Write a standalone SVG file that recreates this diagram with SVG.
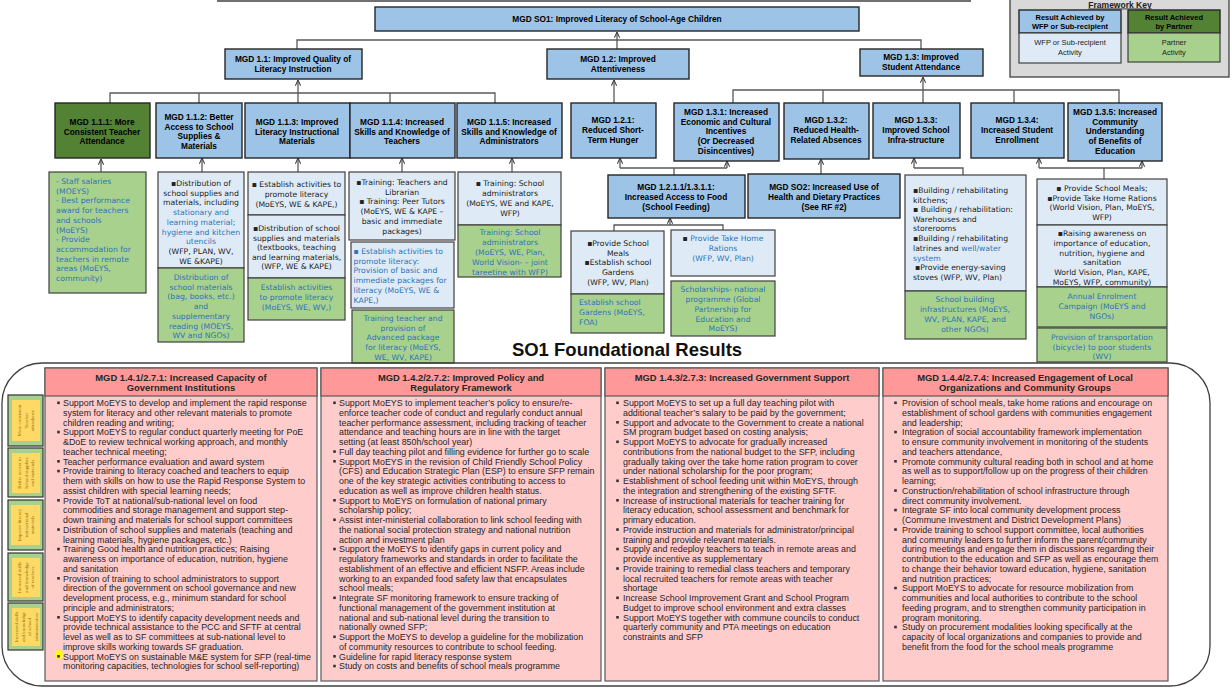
<svg xmlns="http://www.w3.org/2000/svg" width="1232" height="690" viewBox="0 0 1232 690">
<style>
.n{fill:#9DC3E6;stroke:#262626;stroke-width:1.4}
.dg{fill:#548235;stroke:#262626;stroke-width:1.4}
.lb{fill:#DEEBF7;stroke:#404040;stroke-width:1.2}
.lg{fill:#A9D18E;stroke:#404040;stroke-width:1.2}
.t{font-family:"Liberation Sans",Arial,sans-serif;font-weight:bold;font-size:8.3px;text-anchor:middle;fill:#000}
.a{font-family:"DejaVu Sans",Verdana,sans-serif;font-size:7.7px;text-anchor:middle;fill:#222}
.l{text-anchor:start}
.b{fill:#2E74B5}
.k{fill:#222}
.p{font-family:"Liberation Sans",Arial,sans-serif;font-size:8.9px;fill:#262626}
.ph{font-family:"Liberation Sans",Arial,sans-serif;font-size:9.4px;font-weight:bold;text-anchor:middle;fill:#262626}
.pk{fill:#FFCCCC;stroke:#595959;stroke-width:1.2}
.pkh{fill:#FF9999;stroke:#595959;stroke-width:1.2}
.bu{fill:#333}
.sb{fill:#A9D18E;stroke:#333;stroke-width:1.2}
.sy{fill:#FFD966}
.st{font-family:"Liberation Serif","Times New Roman",serif;font-size:5px;fill:#8C6D00;text-anchor:middle}
</style>
<defs>
<marker id="ah" viewBox="0 0 8 8" refX="7.5" refY="4" markerWidth="7" markerHeight="7" markerUnits="userSpaceOnUse" orient="auto">
<path d="M1,1 L7.5,4 L1,7" fill="none" stroke="#404040" stroke-width="1.2"/>
</marker>
</defs>
<rect width="1232" height="690" fill="#fff"/>
<line x1="217" y1="1" x2="971" y2="1" stroke="#404040" stroke-width="1.5"/>

<!-- Framework key -->
<g id="key">
<rect x="1010" y="-2" width="219" height="79" fill="#D9D9D9" stroke="#404040" stroke-width="1.3"/>
<text x="1120" y="7.5" style="font-family:'Liberation Sans',Arial,sans-serif;font-size:8.5px;font-weight:bold;text-anchor:middle;text-decoration:underline" fill="#222">Framework Key</text>
<rect class="n" x="1019" y="10" width="102" height="23"/>
<text class="t" style="font-size:7.5px"><tspan x="1070" y="19.5">Result Achieved by</tspan><tspan x="1070" y="29">WFP or Sub-recipient</tspan></text>
<rect class="lb" x="1019" y="33" width="102" height="30"/>
<text class="a" style="font-family:'Liberation Sans',Arial,sans-serif;font-size:7.5px"><tspan x="1070" y="45">WFP or Sub-recipient</tspan><tspan x="1070" y="55">Activity</tspan></text>
<rect class="dg" x="1128" y="10" width="92" height="23"/>
<text class="t" style="font-size:7.5px"><tspan x="1174" y="19.5">Result Achieved</tspan><tspan x="1174" y="29">by Partner</tspan></text>
<rect class="lg" x="1128" y="33" width="92" height="29"/>
<text class="a" style="font-family:'Liberation Sans',Arial,sans-serif;font-size:7.5px"><tspan x="1174" y="45">Partner</tspan><tspan x="1174" y="55">Activity</tspan></text>
</g>

<!-- Connectors -->
<g id="connectors" fill="none" stroke="#595959" stroke-width="1.3">
<polyline points="297,49 297,40 921,40 921,49"/>
<line x1="617" y1="49" x2="617" y2="32" marker-end="url(#ah)"/>
<polyline points="110,103 110,93 495,93 495,103"/>
<line x1="199" y1="93" x2="199" y2="103"/>
<line x1="390" y1="93" x2="390" y2="103"/>
<line x1="298" y1="103" x2="298" y2="80" marker-end="url(#ah)"/>
<line x1="614" y1="103" x2="614" y2="80" marker-end="url(#ah)"/>
<polyline points="733,103 733,90 1119,90 1119,103"/>
<line x1="823" y1="90" x2="823" y2="103"/>
<line x1="1014" y1="90" x2="1014" y2="103"/>
<line x1="923" y1="103" x2="923" y2="77" marker-end="url(#ah)"/>
<line x1="101" y1="172" x2="101" y2="159" marker-end="url(#ah)"/>
<line x1="202" y1="172" x2="202" y2="158" marker-end="url(#ah)"/>
<line x1="298" y1="172" x2="298" y2="158" marker-end="url(#ah)"/>
<line x1="402" y1="172" x2="402" y2="158" marker-end="url(#ah)"/>
<line x1="512" y1="172" x2="512" y2="158" marker-end="url(#ah)"/>
<line x1="674" y1="175" x2="674" y2="168"/>
<line x1="620" y1="168" x2="727" y2="168"/>
<line x1="620" y1="168" x2="620" y2="158" marker-end="url(#ah)"/>
<line x1="727" y1="168" x2="727" y2="161" marker-end="url(#ah)"/>
<line x1="821" y1="174" x2="821" y2="159" marker-end="url(#ah)"/>
<polyline points="963,175 963,168 914,168"/>
<line x1="914" y1="168" x2="914" y2="158" marker-end="url(#ah)"/>
<line x1="1104" y1="179" x2="1104" y2="168"/>
<line x1="1039" y1="168" x2="1142" y2="168"/>
<line x1="1039" y1="168" x2="1039" y2="158" marker-end="url(#ah)"/>
<line x1="1142" y1="168" x2="1142" y2="161" marker-end="url(#ah)"/>
<line x1="670" y1="225" x2="670" y2="218" marker-end="url(#ah)"/>
<polyline points="614,231 614,225 723,225 723,230"/>
</g>

<!-- Level 0/1 -->
<g id="so1"><rect class="n" x="375" y="7" width="484" height="24"/><text class="t" x="617" y="22">MGD SO1: Improved Literacy of School-Age Children</text></g>
<g id="mgd11"><rect class="n" x="225" y="49" width="137" height="30"/><text class="t"><tspan x="293" y="62">MGD 1.1: Improved Quality of</tspan><tspan x="293" y="72">Literacy Instruction</tspan></text></g>
<g id="mgd12"><rect class="n" x="547" y="49" width="142" height="30"/><text class="t"><tspan x="618" y="62">MGD 1.2: Improved</tspan><tspan x="618" y="72">Attentiveness</tspan></text></g>
<g id="mgd13"><rect class="n" x="860" y="49" width="123" height="27"/><text class="t"><tspan x="921" y="60">MGD 1.3: Improved</tspan><tspan x="921" y="70">Student Attendance</tspan></text></g>

<!-- Level 2 -->
<g id="mgd111"><rect class="dg" x="55" y="103" width="95" height="55"/><text class="t"><tspan x="102" y="125">MGD 1.1.1: More</tspan><tspan x="102" y="135">Consistent Teacher</tspan><tspan x="102" y="144">Attendance</tspan></text></g>
<g id="mgd112"><rect class="n" x="156" y="103" width="86" height="55"/><text class="t"><tspan x="199" y="120">MGD 1.1.2: Better</tspan><tspan x="199" y="130">Access to School</tspan><tspan x="199" y="139">Supplies &amp;</tspan><tspan x="199" y="149">Materials</tspan></text></g>
<g id="mgd113"><rect class="n" x="245" y="103" width="105" height="55"/><text class="t"><tspan x="297" y="125">MGD 1.1.3: Improved</tspan><tspan x="297" y="135">Literacy Instructional</tspan><tspan x="297" y="144">Materials</tspan></text></g>
<g id="mgd114"><rect class="n" x="350" y="103" width="105" height="55"/><text class="t"><tspan x="402" y="125">MGD 1.1.4: Increased</tspan><tspan x="402" y="135">Skills and Knowledge of</tspan><tspan x="402" y="144">Teachers</tspan></text></g>
<g id="mgd115"><rect class="n" x="457" y="103" width="105" height="55"/><text class="t"><tspan x="509" y="125">MGD 1.1.5: Increased</tspan><tspan x="509" y="135">Skills and Knowledge of</tspan><tspan x="509" y="144">Administrators</tspan></text></g>
<g id="mgd121"><rect class="n" x="571" y="103" width="85" height="55"/><text class="t"><tspan x="613" y="123">MGD 1.2.1:</tspan><tspan x="613" y="133">Reduced Short-</tspan><tspan x="613" y="143">Term Hunger</tspan></text></g>
<g id="mgd131"><rect class="n" x="674" y="103" width="105" height="58"/><text class="t"><tspan x="726" y="115">MGD 1.3.1: Increased</tspan><tspan x="726" y="125">Economic and Cultural</tspan><tspan x="726" y="134">Incentives</tspan><tspan x="726" y="144">(Or Decreased</tspan><tspan x="726" y="154">Disincentives)</tspan></text></g>
<g id="mgd132"><rect class="n" x="784" y="103" width="85" height="56"/><text class="t"><tspan x="826" y="123">MGD 1.3.2:</tspan><tspan x="826" y="133">Reduced Health-</tspan><tspan x="826" y="143">Related Absences</tspan></text></g>
<g id="mgd133"><rect class="n" x="873" y="103" width="87" height="55"/><text class="t"><tspan x="916" y="123">MGD 1.3.3:</tspan><tspan x="916" y="133">Improved School</tspan><tspan x="916" y="143">Infra-structure</tspan></text></g>
<g id="mgd134"><rect class="n" x="971" y="103" width="93" height="55"/><text class="t"><tspan x="1017" y="123">MGD 1.3.4:</tspan><tspan x="1017" y="133">Increased Student</tspan><tspan x="1017" y="143">Enrollment</tspan></text></g>
<g id="mgd135"><rect class="n" x="1068" y="103" width="94" height="58"/><text class="t"><tspan x="1115" y="115">MGD 1.3.5: Increased</tspan><tspan x="1115" y="125">Community</tspan><tspan x="1115" y="134">Understanding</tspan><tspan x="1115" y="144">of Benefits of</tspan><tspan x="1115" y="154">Education</tspan></text></g>

<g id="food"><rect class="n" x="608" y="175" width="137" height="43"/><text class="t"><tspan x="676" y="190">MGD 1.2.1.1/1.3.1.1:</tspan><tspan x="676" y="200">Increased Access to Food</tspan><tspan x="676" y="210">(School Feeding)</tspan></text></g>
<g id="so2"><rect class="n" x="748" y="174" width="152" height="44"/><text class="t"><tspan x="824" y="190">MGD SO2: Increased Use of</tspan><tspan x="824" y="200">Health and Dietary Practices</tspan><tspan x="824" y="210">(See RF #2)</tspan></text></g>

<!-- Activities -->
<g id="act111"><rect class="lg" x="49" y="172" width="97" height="121"/>
<text class="a l b"><tspan x="56" y="184">- Staff salaries</tspan><tspan x="56" y="193.7">(MOEYS)</tspan><tspan x="56" y="203.4">- Best performance</tspan><tspan x="56" y="213.1">award for teachers</tspan><tspan x="56" y="222.8">and schools</tspan><tspan x="56" y="232.5">(MoEYS)</tspan><tspan x="56" y="242.2">- Provide</tspan><tspan x="56" y="251.9">accommodation for</tspan><tspan x="56" y="261.6">teachers in remote</tspan><tspan x="56" y="271.3">areas (MoEYS,</tspan><tspan x="56" y="281">community)</tspan></text></g>

<g id="act112"><rect class="lb" x="158" y="172" width="86" height="96"/>
<text class="a"><tspan x="201" y="186">▪Distribution of</tspan><tspan x="201" y="195.7">school supplies and</tspan><tspan x="201" y="205.4">materials, including</tspan><tspan x="201" y="215.1" class="b">stationary and</tspan><tspan x="201" y="224.8" class="b">learning material;</tspan><tspan x="201" y="234.5" class="b">hygiene and kitchen</tspan><tspan x="201" y="244.2" class="b">utencils</tspan><tspan x="201" y="253.9">(WFP, PLAN, WV,</tspan><tspan x="201" y="263.6">WE &amp;KAPE)</tspan></text>
<rect class="lg" x="158" y="268" width="86" height="74"/>
<text class="a b"><tspan x="201" y="280">Distribution of</tspan><tspan x="201" y="289.7">school materials</tspan><tspan x="201" y="299.4">(bag, books, etc.)</tspan><tspan x="201" y="309.1">and</tspan><tspan x="201" y="318.8">supplementary</tspan><tspan x="201" y="328.5">reading  (MOEYS,</tspan><tspan x="201" y="338.2">WV and NGOs)</tspan></text></g>

<g id="act113"><rect class="lb" x="248" y="172" width="97" height="43"/>
<text class="a"><tspan x="296.5" y="187">▪ Establish activities to</tspan><tspan x="296.5" y="197">promote literacy</tspan><tspan x="296.5" y="207">(MoEYS, WE &amp; KAPE,)</tspan></text>
<rect class="lb" x="248" y="215" width="97" height="63"/>
<text class="a"><tspan x="296.5" y="231">▪Distribution of school</tspan><tspan x="296.5" y="240.5">supplies and materials</tspan><tspan x="296.5" y="250">(textbooks, teaching</tspan><tspan x="296.5" y="259.5">and learning materials,</tspan><tspan x="296.5" y="269">(WFP, WE &amp; KAPE)</tspan></text>
<rect class="lg" x="248" y="278" width="97" height="42"/>
<text class="a b"><tspan x="296.5" y="290">Establish activities</tspan><tspan x="296.5" y="300">to promote literacy</tspan><tspan x="296.5" y="310">(MoEYS, WE, WV,)</tspan></text></g>

<g id="act114"><rect class="lb" x="349" y="172" width="106" height="68"/>
<text class="a"><tspan x="402" y="185">▪Training: Teachers and</tspan><tspan x="402" y="194.7">Librarian</tspan><tspan x="402" y="204.4">▪ Training: Peer Tutors</tspan><tspan x="402" y="214.1">(MoEYS, WE &amp; KAPE –</tspan><tspan x="402" y="223.8">basic and immediate</tspan><tspan x="402" y="233.5">packages)</tspan></text>
<rect class="lb" x="351" y="242" width="103" height="66"/>
<text class="a l b"><tspan x="353.5" y="254">▪ Establish activities to</tspan><tspan x="353.5" y="263.7">promote literacy:</tspan><tspan x="353.5" y="273.4">Provision of basic and</tspan><tspan x="353.5" y="283.1">immediate packages for</tspan><tspan x="353.5" y="292.8">literacy (MoEYS, WE &amp;</tspan><tspan x="353.5" y="302.5">KAPE,)</tspan></text>
<rect class="lg" x="352" y="310" width="102" height="53"/>
<text class="a b"><tspan x="403" y="321">Training teacher and</tspan><tspan x="403" y="330.7">provision of</tspan><tspan x="403" y="340.4">Advanced package</tspan><tspan x="403" y="350.1">for literacy (MoEYS,</tspan><tspan x="403" y="359.8">WE, WV, KAPE)</tspan></text></g>

<g id="act115"><rect class="lb" x="458" y="172" width="103" height="53"/>
<text class="a"><tspan x="510" y="186">▪ Training: School</tspan><tspan x="510" y="196">administrators</tspan><tspan x="510" y="206">(MoEYS, WE and KAPE,</tspan><tspan x="510" y="216">WFP)</tspan></text>
<rect class="lg" x="458" y="225" width="103" height="52"/>
<text class="a b"><tspan x="510" y="235">Training: School</tspan><tspan x="510" y="245">administrators</tspan><tspan x="510" y="255">(MoEYS, WE, Plan,</tspan><tspan x="510" y="265">World Vision- – joint</tspan><tspan x="510" y="274.5">tareetine with WFP)</tspan></text></g>

<g id="actfood1"><rect class="lb" x="571" y="231" width="93" height="63"/>
<text class="a"><tspan x="618" y="246">▪Provide School</tspan><tspan x="618" y="255.5">Meals</tspan><tspan x="618" y="265">▪Establish school</tspan><tspan x="618" y="275">Gardens</tspan><tspan x="618" y="285">(WFP, WV, Plan)</tspan></text>
<rect class="lg" x="571" y="294" width="93" height="39"/>
<text class="a l b"><tspan x="579" y="305">Establish school</tspan><tspan x="579" y="315">Gardens (MoEYS,</tspan><tspan x="579" y="325">FOA)</tspan></text></g>

<g id="actfood2"><rect class="lb" x="671" y="230" width="104" height="46"/>
<text class="a"><tspan x="723" y="241"><tspan class="k">▪ </tspan><tspan class="b">Provide Take Home</tspan></tspan><tspan x="723" y="251" class="b">Rations</tspan><tspan x="723" y="261" class="b">(WFP, WV, Plan)</tspan></text>
<rect class="lg" x="671" y="281" width="104" height="55"/>
<text class="a b"><tspan x="723" y="292">Scholarships- national</tspan><tspan x="723" y="302">programme (Global</tspan><tspan x="723" y="312">Partnership for</tspan><tspan x="723" y="321.5">Education and</tspan><tspan x="723" y="331">MoEYS)</tspan></text></g>

<g id="act133"><rect class="lb" x="905" y="175" width="121" height="116"/>
<text class="a l"><tspan x="913" y="193">▪Building / rehabilitating</tspan><tspan x="913" y="202.5">kitchens;</tspan><tspan x="913" y="212">▪ Building / rehabilitation:</tspan><tspan x="913" y="221.5">Warehouses and</tspan><tspan x="913" y="231">storerooms</tspan><tspan x="913" y="241">▪Building / rehabilitating</tspan><tspan x="913" y="251">latrines and <tspan class="b">well/water</tspan></tspan><tspan x="913" y="261" class="b">system</tspan><tspan x="915" y="270">▪Provide energy-saving</tspan><tspan x="913" y="280">stoves (WFP, WV, Plan)</tspan></text>
<rect class="lg" x="905" y="291" width="121" height="48"/>
<text class="a b"><tspan x="965" y="302">School building</tspan><tspan x="965" y="312">infrastructures (MoEYS,</tspan><tspan x="965" y="322">WV, PLAN, KAPE, and</tspan><tspan x="965" y="332">other NGOs)</tspan></text></g>

<g id="act1345"><rect class="lb" x="1037" y="179" width="130" height="46"/>
<text class="a"><tspan x="1102" y="191">▪ Provide School Meals;</tspan><tspan x="1102" y="200.5">▪Provide Take Home Rations</tspan><tspan x="1102" y="210">(World Vision, Plan, MoEYS,</tspan><tspan x="1102" y="220">WFP)</tspan></text>
<rect class="lb" x="1037" y="225" width="130" height="62"/>
<text class="a"><tspan x="1102" y="236">▪Raising awareness on</tspan><tspan x="1102" y="246">importance of education,</tspan><tspan x="1102" y="256">nutrition, hygiene and</tspan><tspan x="1102" y="265">sanitation</tspan><tspan x="1102" y="275">World Vision, Plan, KAPE,</tspan><tspan x="1102" y="285">MoEYS, WFP, community)</tspan></text>
<rect class="lg" x="1037" y="287" width="130" height="40"/>
<text class="a b"><tspan x="1102" y="299">Annual Enrolment</tspan><tspan x="1102" y="309">Campaign (MoEYS and</tspan><tspan x="1102" y="319">NGOs)</tspan></text>
<rect class="lg" x="1037" y="328" width="130" height="34"/>
<text class="a b"><tspan x="1102" y="340">Provision of transportation</tspan><tspan x="1102" y="350">(bicycle) to poor students</tspan><tspan x="1102" y="359">(WV)</tspan></text></g>

<!-- Foundational results -->
<g id="foundational">
<rect x="2" y="363" width="1208" height="323" rx="40" ry="40" fill="none" stroke="#404040" stroke-width="1.3"/>
<text x="627" y="356" style="font-family:'Liberation Sans',Arial,sans-serif;font-size:18.5px;font-weight:bold;text-anchor:middle" fill="#111">SO1 Foundational Results</text>
</g>

<g id="sidebar">
<rect class="sb" x="8" y="395" width="35" height="51"/><rect class="sy" x="12" y="400" width="28" height="41"/>
<text class="st" transform="translate(26,420.5) rotate(-90)"><tspan x="0" y="-5">More consistent</tspan><tspan x="0" y="1.5">Teacher</tspan><tspan x="0" y="8">attendance</tspan></text>
<rect class="sb" x="8" y="448" width="35" height="49"/><rect class="sy" x="12" y="453" width="28" height="40"/>
<text class="st" transform="translate(26,473) rotate(-90)"><tspan x="0" y="-5">Better access to</tspan><tspan x="0" y="1.5">School supplies</tspan><tspan x="0" y="8">and materials</tspan></text>
<rect class="sb" x="8" y="500" width="35" height="50"/><rect class="sy" x="11" y="505" width="29" height="40"/>
<text class="st" transform="translate(26,525) rotate(-90)"><tspan x="0" y="-5">Improve literacy</tspan><tspan x="0" y="1.5">instructional</tspan><tspan x="0" y="8">materials</tspan></text>
<rect class="sb" x="8" y="553" width="35" height="48"/><rect class="sy" x="12" y="558" width="28" height="39"/>
<text class="st" transform="translate(26,577.5) rotate(-90)"><tspan x="0" y="-5">Increased skills</tspan><tspan x="0" y="1.5">and knowledge</tspan><tspan x="0" y="8">of teachers</tspan></text>
<rect class="sb" x="8" y="603" width="35" height="47"/><rect class="sy" x="12" y="608" width="28" height="38"/>
<text class="st" transform="translate(25,627) rotate(-90)"><tspan x="0" y="-7">Increased skills</tspan><tspan x="0" y="-0.5">and knowledge</tspan><tspan x="0" y="6">of school</tspan><tspan x="0" y="12.5">administrators</tspan></text>
</g>

<g id="col1">
<rect class="pk" x="45" y="368" width="272" height="313"/>
<rect class="pkh" x="45" y="368" width="272" height="28"/>
<text class="ph"><tspan x="181" y="381">MGD 1.4.1/2.7.1: Increased Capacity of</tspan><tspan x="181" y="391">Government Institutions</tspan></text>
<rect x="55.5" y="650.5" width="7" height="8" fill="#FFFF00"/>
<g class="bu"><rect x="57.2" y="401.5" width="2.6" height="2.6"/><rect x="57.2" y="430.75" width="2.6" height="2.6"/><rect x="57.2" y="460" width="2.6" height="2.6"/><rect x="57.2" y="469.75" width="2.6" height="2.6"/><rect x="57.2" y="499" width="2.6" height="2.6"/><rect x="57.2" y="528.25" width="2.6" height="2.6"/><rect x="57.2" y="547.75" width="2.6" height="2.6"/><rect x="57.2" y="577" width="2.6" height="2.6"/><rect x="57.2" y="616" width="2.6" height="2.6"/><rect x="57.2" y="655" width="2.6" height="2.6"/></g>
<text class="p" x="63" y="406"><tspan x="63" dy="0">Support MoEYS to develop and implement the rapid response</tspan><tspan x="63" dy="9.75">system for literacy and other relevant materials to promote</tspan><tspan x="63" dy="9.75">children reading and writing;</tspan><tspan x="63" dy="9.75">Support MoEYS to regular conduct quarterly meeting for PoE</tspan><tspan x="63" dy="9.75">&amp;DoE to review technical working approach, and monthly</tspan><tspan x="63" dy="9.75">teacher technical meeting;</tspan><tspan x="63" dy="9.75">Teacher performance evaluation and award system</tspan><tspan x="63" dy="9.75">Provide training to literacy coached and teachers to equip</tspan><tspan x="63" dy="9.75">them with skills on how to use the Rapid Response System to</tspan><tspan x="63" dy="9.75">assist children with special learning needs;</tspan><tspan x="63" dy="9.75">Provide ToT at national/sub-national level on food</tspan><tspan x="63" dy="9.75">commodities and storage management and support step-</tspan><tspan x="63" dy="9.75">down training and materials for school support committees</tspan><tspan x="63" dy="9.75">Distribution of school supplies and materials (teaching and</tspan><tspan x="63" dy="9.75">learning materials, hygiene packages, etc.)</tspan><tspan x="63" dy="9.75">Training Good health and nutrition practices; Raising</tspan><tspan x="63" dy="9.75">awareness on importance of education, nutrition, hygiene</tspan><tspan x="63" dy="9.75">and sanitation</tspan><tspan x="63" dy="9.75">Provision of training to school administrators to support</tspan><tspan x="63" dy="9.75">direction of the government on school governance and new</tspan><tspan x="63" dy="9.75">development process, e.g., minimum standard for school</tspan><tspan x="63" dy="9.75">principle and administrators;</tspan><tspan x="63" dy="9.75">Support MoEYS to identify capacity development needs and</tspan><tspan x="63" dy="9.75">provide technical assistance to the PCC and SFTF at central</tspan><tspan x="63" dy="9.75">level as well as to SF committees at sub-national level to</tspan><tspan x="63" dy="9.75">improve skills working towards SF graduation.</tspan><tspan x="63" dy="9.75">Support MoEYS on sustainable M&amp;E system for SFP (real-time</tspan><tspan x="63" dy="9.75">monitoring capacities, technologies for school self-reporting)</tspan></text>
</g>

<g id="col2">
<rect class="pk" x="321" y="368" width="280" height="313"/>
<rect class="pkh" x="321" y="368" width="280" height="28"/>
<text class="ph"><tspan x="461" y="381">MGD 1.4.2/2.7.2: Improved Policy and</tspan><tspan x="461" y="391">Regulatory Framework</tspan></text>
<g class="bu"><rect x="333.2" y="401.5" width="2.6" height="2.6"/><rect x="333.2" y="450.25" width="2.6" height="2.6"/><rect x="333.2" y="460" width="2.6" height="2.6"/><rect x="333.2" y="499" width="2.6" height="2.6"/><rect x="333.2" y="518.5" width="2.6" height="2.6"/><rect x="333.2" y="547.75" width="2.6" height="2.6"/><rect x="333.2" y="596.5" width="2.6" height="2.6"/><rect x="333.2" y="635.5" width="2.6" height="2.6"/><rect x="333.2" y="655" width="2.6" height="2.6"/><rect x="333.2" y="664.75" width="2.6" height="2.6"/></g>
<text class="p" x="339" y="406"><tspan x="339" dy="0">Support MoEYS to implement teacher’s policy to ensure/re-</tspan><tspan x="339" dy="9.75">enforce teacher code of conduct and regularly conduct annual</tspan><tspan x="339" dy="9.75">teacher performance assessment, including tracking of teacher</tspan><tspan x="339" dy="9.75">attendance and teaching hours are in line with the target</tspan><tspan x="339" dy="9.75">setting (at least 850h/school year)</tspan><tspan x="339" dy="9.75">Full day teaching pilot and filling evidence for further go to scale</tspan><tspan x="339" dy="9.75">Support MoEYS in the revision of Child Friendly School Policy</tspan><tspan x="339" dy="9.75">(CFS) and Education Strategic Plan (ESP) to ensure SFP remain</tspan><tspan x="339" dy="9.75">one of the key strategic activities contributing to access to</tspan><tspan x="339" dy="9.75">education as well as improve children health status.</tspan><tspan x="339" dy="9.75">Support to MoEYS on formulation of national primary</tspan><tspan x="339" dy="9.75">scholarship policy;</tspan><tspan x="339" dy="9.75">Assist inter-ministerial collaboration to link school feeding with</tspan><tspan x="339" dy="9.75">the national social protection strategy and national nutrition</tspan><tspan x="339" dy="9.75">action and investment plan</tspan><tspan x="339" dy="9.75">Support the MoEYS to identify gaps in current policy and</tspan><tspan x="339" dy="9.75">regulatory frameworks and standards in order to facilitate the</tspan><tspan x="339" dy="9.75">establishment of an effective and efficient NSFP. Areas include</tspan><tspan x="339" dy="9.75">working to an expanded food safety law that encapsulates</tspan><tspan x="339" dy="9.75">school meals;</tspan><tspan x="339" dy="9.75">Integrate SF monitoring framework to ensure tracking of</tspan><tspan x="339" dy="9.75">functional management of the government institution at</tspan><tspan x="339" dy="9.75">national and sub-national level during the transition to</tspan><tspan x="339" dy="9.75">nationally owned SFP;</tspan><tspan x="339" dy="9.75">Support the MoEYS to develop a guideline for the mobilization</tspan><tspan x="339" dy="9.75">of community resources to contribute to school feeding.</tspan><tspan x="339" dy="9.75">Guideline for rapid literacy response system</tspan><tspan x="339" dy="9.75">Study on costs and benefits of school meals programme</tspan></text>
</g>

<g id="col3">
<rect class="pk" x="605" y="368" width="274" height="313"/>
<rect class="pkh" x="605" y="368" width="274" height="28"/>
<text class="ph" x="742" y="381">MGD 1.4.3/2.7.3:  Increased Government Support</text>
<g class="bu"><rect x="616.2" y="401.5" width="2.6" height="2.6"/><rect x="616.2" y="421" width="2.6" height="2.6"/><rect x="616.2" y="440.5" width="2.6" height="2.6"/><rect x="616.2" y="479.5" width="2.6" height="2.6"/><rect x="616.2" y="499" width="2.6" height="2.6"/><rect x="616.2" y="528.25" width="2.6" height="2.6"/><rect x="616.2" y="547.75" width="2.6" height="2.6"/><rect x="616.2" y="567.25" width="2.6" height="2.6"/><rect x="616.2" y="596.5" width="2.6" height="2.6"/><rect x="616.2" y="616" width="2.6" height="2.6"/></g>
<text class="p" x="623" y="406"><tspan x="623" dy="0">Support MoEYS to set up a full day teaching pilot with</tspan><tspan x="623" dy="9.75">additional teacher’s salary to be paid by the government;</tspan><tspan x="623" dy="9.75">Support and advocate to the Government to create a national</tspan><tspan x="623" dy="9.75">SM program budget based on costing analysis;</tspan><tspan x="623" dy="9.75">Support MoEYS to advocate for gradually increased</tspan><tspan x="623" dy="9.75">contributions from the national budget to the SFP, including</tspan><tspan x="623" dy="9.75">gradually taking over the take home ration program to cover</tspan><tspan x="623" dy="9.75">under national scholarship for the poor program;</tspan><tspan x="623" dy="9.75">Establishment of school feeding unit within MoEYS, through</tspan><tspan x="623" dy="9.75">the integration and strengthening of the existing SFTF.</tspan><tspan x="623" dy="9.75">Increase of instructional materials for teacher training for</tspan><tspan x="623" dy="9.75">literacy education, school assessment and benchmark for</tspan><tspan x="623" dy="9.75">primary education.</tspan><tspan x="623" dy="9.75">Provide instruction and materials for administrator/principal</tspan><tspan x="623" dy="9.75">training and provide relevant materials.</tspan><tspan x="623" dy="9.75">Supply and redeploy teachers to teach in remote areas and</tspan><tspan x="623" dy="9.75">provide incentive as supplementary</tspan><tspan x="623" dy="9.75">Provide training to remedial class teachers and temporary</tspan><tspan x="623" dy="9.75">local recruited teachers for remote areas with teacher</tspan><tspan x="623" dy="9.75">shortage</tspan><tspan x="623" dy="9.75">Increase School Improvement Grant and School Program</tspan><tspan x="623" dy="9.75">Budget to improve school environment and extra classes</tspan><tspan x="623" dy="9.75">Support MoEYS together with commune councils to conduct</tspan><tspan x="623" dy="9.75">quarterly community and PTA meetings on education</tspan><tspan x="623" dy="9.75">constraints and SFP</tspan></text>
</g>

<g id="col4">
<rect class="pk" x="883" y="368" width="285" height="313"/>
<rect class="pkh" x="883" y="368" width="285" height="28"/>
<text class="ph"><tspan x="1025" y="381">MGD 1.4.4/2.7.4: Increased Engagement of Local</tspan><tspan x="1025" y="391">Organizations and Community Groups</tspan></text>
<g class="bu"><rect x="894.2" y="401.5" width="2.6" height="2.6"/><rect x="894.2" y="430.75" width="2.6" height="2.6"/><rect x="894.2" y="460" width="2.6" height="2.6"/><rect x="894.2" y="489.25" width="2.6" height="2.6"/><rect x="894.2" y="508.75" width="2.6" height="2.6"/><rect x="894.2" y="528.25" width="2.6" height="2.6"/><rect x="894.2" y="586.75" width="2.6" height="2.6"/><rect x="894.2" y="625.75" width="2.6" height="2.6"/></g>
<text class="p" x="902" y="406"><tspan x="902" dy="0">Provision of school meals, take home rations and encourage on</tspan><tspan x="902" dy="9.75">establishment of school gardens with communities engagement</tspan><tspan x="902" dy="9.75">and leadership;</tspan><tspan x="902" dy="9.75">Integration of social accountability framework implementation</tspan><tspan x="902" dy="9.75">to ensure community involvement in monitoring of the students</tspan><tspan x="902" dy="9.75">and teachers attendance,</tspan><tspan x="902" dy="9.75">Promote community cultural reading both in school and at home</tspan><tspan x="902" dy="9.75">as well as to support/follow up on the progress of their children</tspan><tspan x="902" dy="9.75">learning;</tspan><tspan x="902" dy="9.75">Construction/rehabilitation of school infrastructure through</tspan><tspan x="902" dy="9.75">direct community involvement.</tspan><tspan x="902" dy="9.75">Integrate SF into local community development process</tspan><tspan x="902" dy="9.75">(Commune Investment and District Development Plans)</tspan><tspan x="902" dy="9.75">Provide training to school support committee, local authorities</tspan><tspan x="902" dy="9.75">and community leaders to further inform the parent/community</tspan><tspan x="902" dy="9.75">during meetings and engage them in discussions regarding their</tspan><tspan x="902" dy="9.75">contribution to the education and SFP as well as encourage them</tspan><tspan x="902" dy="9.75">to change their behavior toward education, hygiene, sanitation</tspan><tspan x="902" dy="9.75">and nutrition practices;</tspan><tspan x="902" dy="9.75">Support MoEYS to advocate for resource mobilization from</tspan><tspan x="902" dy="9.75">communities and local authorities to contribute to the school</tspan><tspan x="902" dy="9.75">feeding program, and to strengthen community participation in</tspan><tspan x="902" dy="9.75">program monitoring.</tspan><tspan x="902" dy="9.75">Study on procurement modalities looking specifically at the</tspan><tspan x="902" dy="9.75">capacity of local organizations and companies to provide and</tspan><tspan x="902" dy="9.75">benefit from the food for the school meals programme</tspan></text>
</g>
</svg>
